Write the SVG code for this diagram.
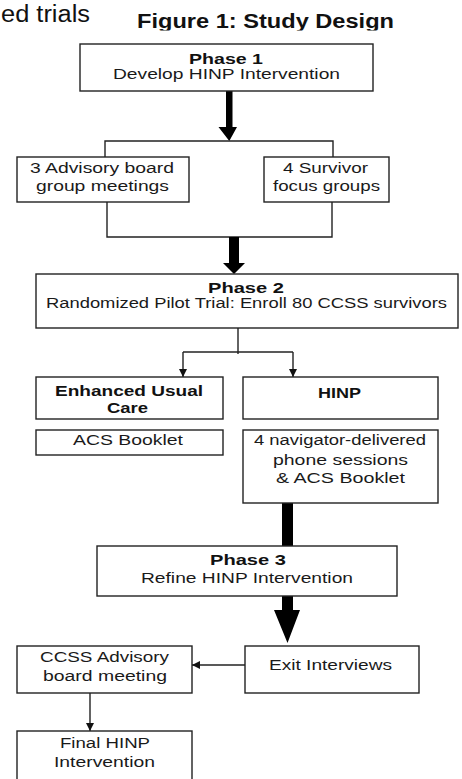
<svg xmlns="http://www.w3.org/2000/svg" width="462" height="779" viewBox="0 0 462 779">
<style>
.box{fill:#fff;stroke:#222;stroke-width:1.4}
.t{font-family:"Liberation Sans",Arial,sans-serif;font-size:14px;fill:#1a1a1a}
.b{font-family:"Liberation Sans",Arial,sans-serif;font-size:15px;font-weight:bold;fill:#111}
.ln{fill:none;stroke:#222;stroke-width:1.4}
.thick{fill:#000}
</style>
<defs>
<marker id="ah" markerWidth="8" markerHeight="8" refX="8" refY="4" orient="auto" markerUnits="userSpaceOnUse">
<path d="M0,0 L8,4 L0,8 Z" fill="#111"/>
</marker>
<clipPath id="titleclip"><rect x="0" y="0" width="462" height="30.5"/></clipPath>
</defs>
<rect width="462" height="779" fill="#fff"/>
<text x="1" y="21.5" style="font-family:'Liberation Sans',Arial,sans-serif;font-size:23.5px;fill:#111" textLength="89" lengthAdjust="spacingAndGlyphs">ed trials</text>
<text x="137" y="28" clip-path="url(#titleclip)" style="font-family:'Liberation Sans',Arial,sans-serif;font-size:19.5px;font-weight:bold;fill:#111" textLength="257" lengthAdjust="spacingAndGlyphs">Figure 1: Study Design</text>

<g id="connectors">
<polygon class="thick" points="226,91 232.5,91 232.5,127 237,127 229.3,141 218.5,127 226,127"/>
<polyline class="ln" points="105,157 105,141 333,141 333,157"/>
<polyline class="ln" points="107,202 107,237 332,237 332,202"/>
<polygon class="thick" points="229,237 239,237 239,263 245,263 234,274 223,263 229,263"/>
<line class="ln" x1="238" y1="328" x2="238" y2="354"/>
<line class="ln" x1="183" y1="352" x2="293" y2="352"/>
<line class="ln" x1="183" y1="352" x2="183" y2="377" marker-end="url(#ah)"/>
<line class="ln" x1="293" y1="352" x2="293" y2="377" marker-end="url(#ah)"/>
<rect class="thick" x="282" y="503" width="11" height="43"/>
<polygon class="thick" points="282,596 293,596 293,610 300,610 287.5,643 274,610 282,610"/>
<line class="ln" x1="245" y1="665" x2="192" y2="665" marker-end="url(#ah)"/>
<line class="ln" x1="90" y1="693" x2="90" y2="731" marker-end="url(#ah)"/>
</g>

<g id="phase1">
<rect class="box" x="80" y="44" width="293" height="47"/>
<text class="b" x="189" y="64" textLength="74" lengthAdjust="spacingAndGlyphs">Phase 1</text>
<text class="t" x="113" y="79" textLength="227" lengthAdjust="spacingAndGlyphs">Develop HINP Intervention</text>
</g>

<g id="advisory">
<rect class="box" x="17" y="157" width="172" height="45"/>
<text class="t" x="30" y="173" textLength="144" lengthAdjust="spacingAndGlyphs">3 Advisory board</text>
<text class="t" x="36" y="191" textLength="133" lengthAdjust="spacingAndGlyphs">group meetings</text>
</g>

<g id="focus">
<rect class="box" x="264" y="157" width="125" height="45"/>
<text class="t" x="283" y="173" textLength="85" lengthAdjust="spacingAndGlyphs">4 Survivor</text>
<text class="t" x="273" y="191" textLength="107" lengthAdjust="spacingAndGlyphs">focus groups</text>
</g>

<g id="phase2">
<rect class="box" x="36" y="274" width="422" height="54"/>
<text class="b" x="208" y="293" textLength="76" lengthAdjust="spacingAndGlyphs">Phase 2</text>
<text class="t" x="46" y="308" textLength="401" lengthAdjust="spacingAndGlyphs">Randomized Pilot Trial: Enroll 80 CCSS survivors</text>
</g>

<g id="euc">
<rect class="box" x="36" y="377" width="187" height="42"/>
<text class="b" x="55" y="395.5" textLength="148" lengthAdjust="spacingAndGlyphs">Enhanced Usual</text>
<text class="b" x="107" y="413" textLength="41" lengthAdjust="spacingAndGlyphs">Care</text>
</g>

<g id="hinp">
<rect class="box" x="243" y="377" width="195" height="42"/>
<text class="b" x="318" y="398" textLength="43" lengthAdjust="spacingAndGlyphs">HINP</text>
</g>

<g id="acs">
<rect class="box" x="36" y="430" width="187" height="25"/>
<text class="t" x="73" y="445" textLength="110" lengthAdjust="spacingAndGlyphs">ACS Booklet</text>
</g>

<g id="sessions">
<rect class="box" x="243" y="430" width="195" height="73"/>
<text class="t" x="254" y="445" textLength="172" lengthAdjust="spacingAndGlyphs">4 navigator-delivered</text>
<text class="t" x="273" y="465" textLength="135" lengthAdjust="spacingAndGlyphs">phone sessions</text>
<text class="t" x="276" y="483" textLength="129" lengthAdjust="spacingAndGlyphs">&amp; ACS Booklet</text>
</g>

<g id="phase3">
<rect class="box" x="97" y="546" width="300" height="50"/>
<text class="b" x="210" y="565" textLength="76" lengthAdjust="spacingAndGlyphs">Phase 3</text>
<text class="t" x="141" y="582.5" textLength="212" lengthAdjust="spacingAndGlyphs">Refine HINP Intervention</text>
</g>

<g id="exit">
<rect class="box" x="245" y="646" width="174" height="47"/>
<text class="t" x="269" y="670" textLength="123" lengthAdjust="spacingAndGlyphs">Exit Interviews</text>
</g>

<g id="ccss">
<rect class="box" x="17" y="646" width="175" height="47"/>
<text class="t" x="40" y="661.5" textLength="129" lengthAdjust="spacingAndGlyphs">CCSS Advisory</text>
<text class="t" x="43" y="680.5" textLength="124" lengthAdjust="spacingAndGlyphs">board meeting</text>
</g>

<g id="final">
<rect class="box" x="17" y="731" width="175" height="60"/>
<text class="t" x="60" y="748" textLength="90" lengthAdjust="spacingAndGlyphs">Final HINP</text>
<text class="t" x="54" y="767" textLength="101" lengthAdjust="spacingAndGlyphs">Intervention</text>
</g>
</svg>
